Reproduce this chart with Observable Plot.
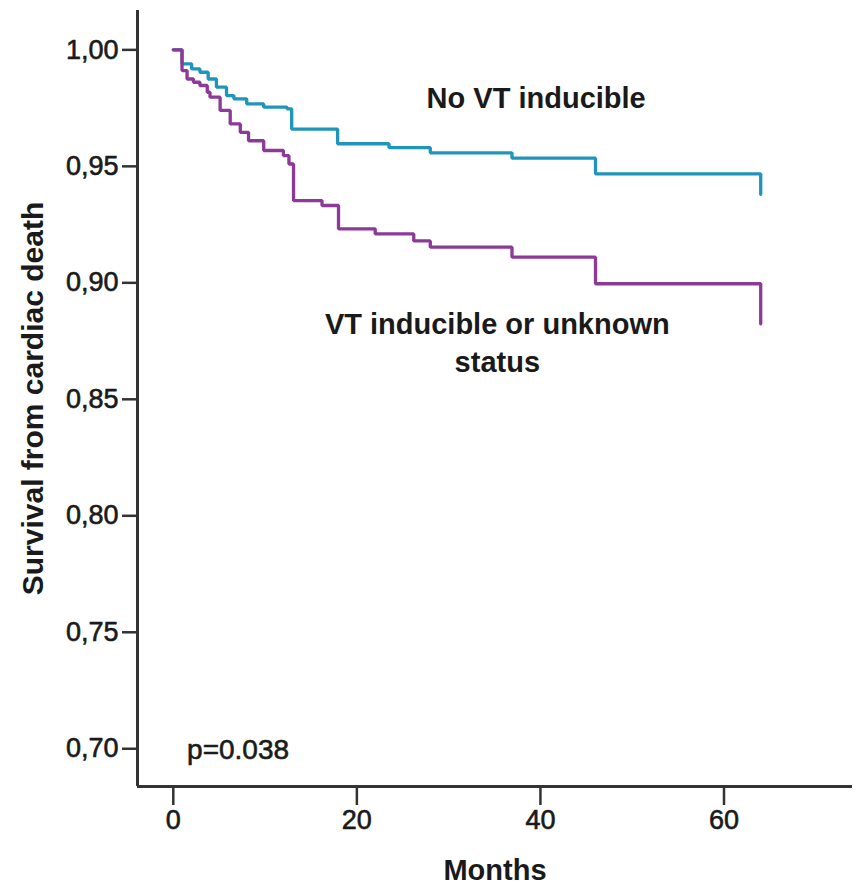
<!DOCTYPE html>
<html>
<head>
<meta charset="utf-8">
<script src="https://cdn.jsdelivr.net/npm/d3@7"></script>
<script src="https://cdn.jsdelivr.net/npm/@observablehq/plot@0.6"></script>
<style>
  html, body { margin: 0; padding: 0; background: #fff; }
  #chart { width: 858px; height: 889px; }
</style>
</head>
<body>
<div id="chart"></div>
<script>
// ---- data ----
const monthsNoVT = [0, 0.95, 2.0, 2.9, 3.8, 4.7, 5.8, 6.6, 8.0, 9.85, 12.4, 12.9, 17.9, 23.5, 28.0, 36.9, 46.0, 64.0];
const survNoVT   = [1.000, 0.994, 0.9918, 0.9904, 0.9875, 0.984, 0.9804, 0.979, 0.9768, 0.9754, 0.9747, 0.966, 0.9597, 0.958, 0.9558, 0.9535, 0.9468, 0.938];

const monthsVT = [0, 0.95, 1.5, 2.2, 2.9, 3.7, 4.0, 5.1, 6.2, 7.3, 8.2, 9.85, 12.0, 12.6, 13.1, 16.2, 18.0, 22.0, 26.2, 28.0, 36.9, 46.0, 64.0];
const survVT   = [1.000, 0.9911, 0.9875, 0.9861, 0.9847, 0.9818, 0.9797, 0.974, 0.9682, 0.9646, 0.961, 0.9568, 0.9546, 0.951, 0.9353, 0.9332, 0.9232, 0.921, 0.918, 0.9153, 0.911, 0.8996, 0.8824];

const seriesNames = ["No VT inducible", "VT inducible or unknown status"];
const seriesColors = ["#1f95bb", "#8c3a97"];

const xTicks = [0, 20, 40, 60];
const yTicks = [0.70, 0.75, 0.80, 0.85, 0.90, 0.95, 1.00];
const xDomain = [-3.9, 74];
const yDomain = [0.6838, 1.0169];

const xLabel = "Months";
const yLabel = "Survival from cardiac death";

// annotation labels (anchored in data units)
const labelNoVT = ["No VT inducible"];
const labelNoVTAt = [27.6, 0.9791];
const labelVT = ["VT inducible or unknown\nstatus"];
const labelVTAt = [35.3, 0.8750];
const pText = ["p=0.038"];
const pAt = [1.5, 0.6995];

// ---- build ----
const rows = [
  ...monthsNoVT.map((m, i) => ({month: m, surv: survNoVT[i], group: seriesNames[0]})),
  ...monthsVT.map((m, i) => ({month: m, surv: survVT[i], group: seriesNames[1]}))
];

const FONT = "'Liberation Sans', Arial, Helvetica, sans-serif";
const fmtY = d => d3.format(".2f")(d).replace(".", ",");
const INK = "#1a1a1a";

const chart = Plot.plot({
  width: 858,
  height: 889,
  marginLeft: 137,
  marginRight: 6,
  marginTop: 10,
  marginBottom: 103,
  style: {fontFamily: FONT, background: "#fff", color: "#222"},
  x: {domain: xDomain},
  y: {domain: yDomain},
  color: {domain: seriesNames, range: seriesColors},
  marks: [
    Plot.axisY({ticks: yTicks, tickFormat: fmtY, tickSize: 15, tickPadding: 4,
      fontSize: 27, stroke: "#333", strokeWidth: 2.5, fill: INK, label: null,
      textStroke: INK, textStrokeWidth: 0.6}),
    Plot.axisX({ticks: xTicks, tickSize: 19, tickPadding: 4,
      fontSize: 27, stroke: "#333", strokeWidth: 2.5, fill: INK, label: null,
      textStroke: INK, textStrokeWidth: 0.6}),
    Plot.ruleX([xDomain[0]], {stroke: "#333", strokeWidth: 3}),
    Plot.ruleY([yDomain[0]], {stroke: "#333", strokeWidth: 3}),
    Plot.line(rows, {x: "month", y: "surv", z: "group", stroke: "group",
      curve: "step-after", strokeWidth: 3.3, strokeLinejoin: "miter"}),
    Plot.text(labelNoVT, {x: () => labelNoVTAt[0], y: () => labelNoVTAt[1], text: d => d,
      textAnchor: "start", fontSize: 29, fontWeight: "bold", fill: INK}),
    Plot.text(labelVT, {x: () => labelVTAt[0], y: () => labelVTAt[1], text: d => d,
      textAnchor: "middle", lineAnchor: "middle", lineHeight: 1.3,
      fontSize: 29, fontWeight: "bold", fill: INK}),
    Plot.text(pText, {x: () => pAt[0], y: () => pAt[1], text: d => d,
      textAnchor: "start", fontSize: 28, fill: INK, stroke: INK, strokeWidth: 0.6}),
    Plot.text([xLabel], {frameAnchor: "bottom", dy: 84, text: d => d,
      textAnchor: "middle", lineAnchor: "middle",
      fontSize: 29, fontWeight: "bold", fill: INK}),
    Plot.text([yLabel], {frameAnchor: "left", dx: -104, rotate: -90, text: d => d,
      textAnchor: "middle", lineAnchor: "middle",
      fontSize: 30, fontWeight: "bold", fill: INK})
  ]
});
document.getElementById("chart").appendChild(chart);
</script>
</body>
</html>
